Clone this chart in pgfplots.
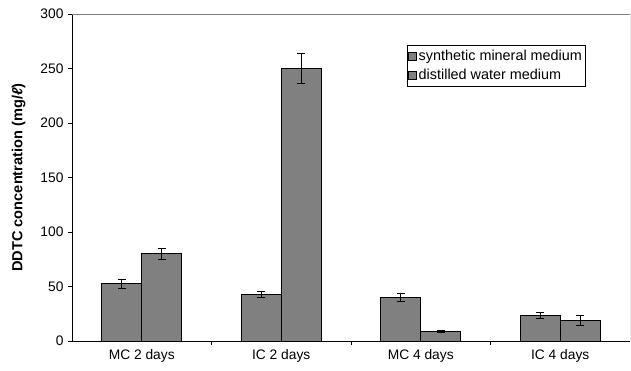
\documentclass[border=0pt]{standalone}
\usepackage{fontspec}
\setmainfont{Liberation Sans}
\usepackage{pgfplots}
\pgfplotsset{compat=1.18}
\definecolor{bargray}{RGB}{128,128,128}
\begin{document}
\begin{tikzpicture}[x=1pt,y=1pt]
\begin{axis}[
  scale only axis,
  width=558pt, height=327pt,
  xmin=0, xmax=4, ymin=0, ymax=300,
  axis x line*=bottom, axis y line*=left,
  axis line style={black, line width=0.8pt},
  ybar=0pt, bar width=40pt,
  xtick={0.5,1.5,2.5,3.5},
  xticklabels={MC 2 days, IC 2 days, MC 4 days, IC 4 days},
  major x tick style={draw=none},
  minor xtick={1,2,3},
  minor x tick style={black, line width=0.6pt},
  minor tick length=4pt,
  ytick={0,50,...,300},
  major tick length=4pt,
  tick align=outside,
  y tick style={black, line width=0.6pt},
  ticklabel style={font=\fontsize{13.8}{16}\selectfont},
  /pgf/number format/assume math mode=true,
  xticklabel style={yshift=-1pt},
  yticklabel style={xshift=-1pt},
  ylabel={\textbf{DDTC concentration (mg/\textit{ℓ})}},
  ylabel style={font=\fontsize{14.6}{16}\selectfont, yshift=8pt},
  legend style={at={(0.6,0.905)}, anchor=north west, draw=black, line width=0.6pt,
    font=\fontsize{14.4}{16}\selectfont, row sep=3pt, inner xsep=1pt, inner ysep=3pt,
    cells={anchor=west}},
  legend image code/.code={\draw[#1, line width=0.6pt] (0pt,-4pt) rectangle (8pt,4pt);},
  error bars/y dir=both, error bars/y explicit,
  error bars/error bar style={black, line width=0.7pt},
  error bars/error mark options={black, line width=0.7pt, mark size=4pt, rotate=90},
]
\addplot[fill=bargray, draw=black, line width=0.7pt] coordinates {
  (0.5,52.5) +- (0,4.5)
  (1.5,43) +- (0,2.5)
  (2.5,40) +- (0,4)
  (3.5,23.5) +- (0,3)
};
\addplot[fill=bargray, draw=black, line width=0.7pt] coordinates {
  (0.5,80) +- (0,5)
  (1.5,250) +- (0,14)
  (2.5,8.5) +- (0,1)
  (3.5,19) +- (0,4.5)
};
\legend{synthetic mineral medium, distilled water medium}
\draw[gray, line width=0.8pt] (rel axis cs:0,1) -- (rel axis cs:1,1) -- (rel axis cs:1,0);
\end{axis}
\path (current axis.south west) ++(-72pt,-30pt) rectangle ++(631pt,371pt);
\end{tikzpicture}
\end{document}
